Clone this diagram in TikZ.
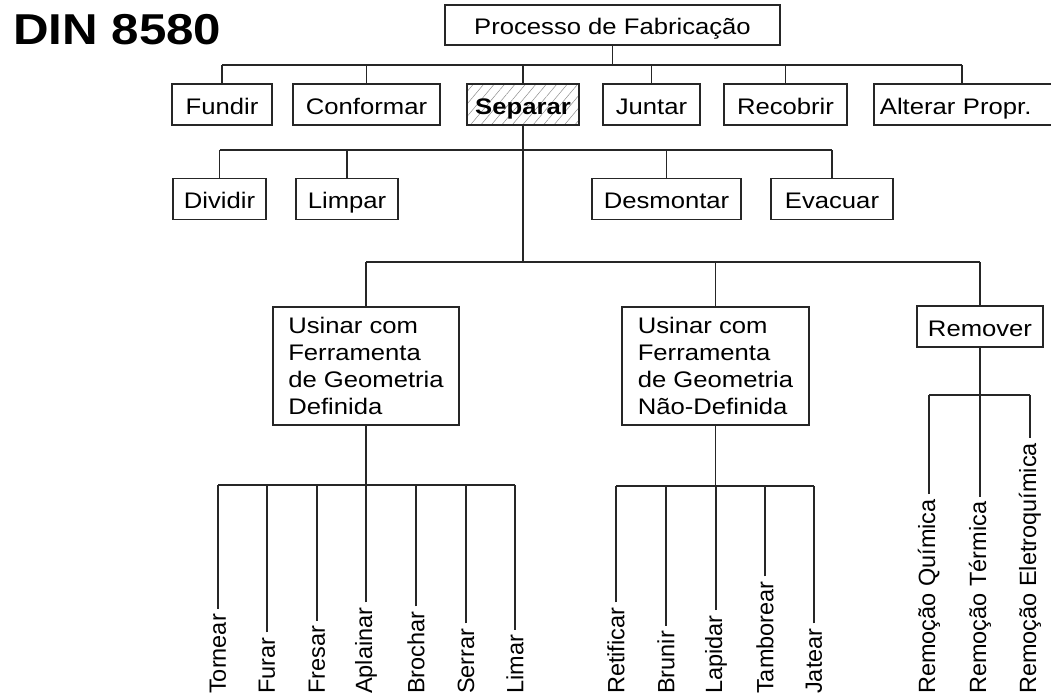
\documentclass[tikz,border=0pt]{standalone}
\usepackage{fontspec}
\setmainfont[FakeStretch=1.14]{Liberation Sans}
\newfontfamily\leaffont{Liberation Sans}
\usetikzlibrary{positioning, calc, patterns.meta}
\tikzstyle{boxbase}=[
  draw=black!85,
  line width=1.8pt,
  minimum height=41pt,
  inner sep=0pt,
  font={\fontsize{22.5}{27}\selectfont}
]
\tikzstyle{procbox}=[boxbase, text height=21pt, text depth=2pt]
\tikzstyle{leaf}=[
  rotate=90,
  anchor=west,
  inner sep=5pt,
  font={\leaffont\fontsize{23.5}{27}\selectfont}
]
\tikzstyle{conn}=[line width=1.4pt, black!85]

\begin{document}
\begin{tikzpicture}[x=1pt, y=-1pt]

\newcommand\ROWA{104.5}
\newcommand\ROWB{199}
\newcommand\BOTTOM{699}

\useasboundingbox (0,0) rectangle (1051,698);
\clip (0,0) rectangle (1051,698);

%% title
\node[anchor=base west, inner sep=0pt, font={\bfseries\fontsize{43.2}{50}\selectfont}] (din) at (13,45) {DIN 8580};

%% bus lines
\coordinate (busa) at (0,65);
\coordinate (busb) at (0,150);
\coordinate (busc) at (0,262);
\coordinate (busd) at (0,485);
\coordinate (buse) at (0,486);
\coordinate (busf) at (0,395);

%% top
\node[procbox, minimum width=335pt, minimum height=40pt] (fabric) at (612.5,25) {Processo de Fabricação};

%% first level
\node[procbox, minimum width=100pt] (fundir) at (222,\ROWA) {Fundir};
\node[procbox, minimum width=147pt] (conformar) at (366.5,\ROWA) {Conformar};
\node[procbox, minimum width=112pt, pattern={Lines[angle=50, distance=8pt, line width=0.5pt]}, pattern color=black!45] (separar) at (523,\ROWA) {\textbf{Separar}};
\node[procbox, minimum width=97pt] (juntar) at (651.5,\ROWA) {Juntar};
\node[procbox, minimum width=123pt] (recobrir) at (785.5,\ROWA) {Recobrir};
\node[procbox, anchor=west, inner xsep=6pt, text width=180pt, align=left] (alterar) at (873,\ROWA) {Alterar Propr.};
\coordinate (altin) at (962,84);

\draw[conn] (fabric.south) -- (fabric.south |- busa);
\draw[conn] (fundir.north |- busa) -- (altin |- busa);
\foreach \n in {fundir, conformar, separar, juntar, recobrir}
  \draw[conn] (\n.north) -- (\n.north |- busa);
\draw[conn] (altin) -- (altin |- busa);

%% second level
\node[procbox, minimum width=93pt] (dividir) at (219.5,\ROWB) {Dividir};
\node[procbox, minimum width=102pt] (limpar) at (347,\ROWB) {Limpar};
\node[procbox, minimum width=149pt] (desmontar) at (666.5,\ROWB) {Desmontar};
\node[procbox, minimum width=122pt] (evacuar) at (832,\ROWB) {Evacuar};

\draw[conn] (separar.south) -- (separar.south |- busc);
\draw[conn] (dividir.north |- busb) -- (evacuar.north |- busb);
\foreach \n in {dividir, limpar, desmontar, evacuar}
  \draw[conn] (\n.north) -- (\n.north |- busb);

%% machining groups
\node[boxbase, minimum width=186pt, minimum height=118pt, align=left] (usinara) at (366,366) {Usinar com\\Ferramenta\\de Geometria\\Definida};
\node[boxbase, minimum width=187pt, minimum height=118pt, align=left] (usinarb) at (715.5,366) {Usinar com\\Ferramenta\\de Geometria\\Não-Definida};
\node[procbox, minimum width=126pt] (remover) at (980,326.5) {Remover};

\draw[conn] (usinara.north |- busc) -- (remover.north |- busc);
\foreach \n in {usinara, usinarb, remover}
  \draw[conn] (\n.north) -- (\n.north |- busc);

%% leaves
\foreach \x/\n/\lbl in {218/tornear/Tornear, 267/furar/Furar, 317/fresar/Fresar, 366/aplainar/Aplainar, 416/brochar/Brochar, 466/serrar/Serrar, 515/limar/Limar} {
  \node[leaf] (\n) at (\x,\BOTTOM) {\lbl};
  \draw[conn] (\n.east) -- (\n.east |- busd);
}
\draw[conn] (usinara.south) -- (usinara.south |- busd);
\draw[conn] (tornear.east |- busd) -- (limar.east |- busd);

\foreach \x/\n/\lbl in {616/retificar/Retificar, 666/brunir/Brunir, 716/lapidar/Lapidar, 765/tamborear/Tamborear, 814/jatear/Jatear} {
  \node[leaf] (\n) at (\x,\BOTTOM) {\lbl};
  \draw[conn] (\n.east) -- (\n.east |- buse);
}
\draw[conn] (usinarb.south) -- (usinarb.south |- buse);
\draw[conn] (retificar.east |- buse) -- (jatear.east |- buse);

\foreach \x/\n/\lbl in {929/quimica/Remoção Química, 980/termica/Remoção Térmica, 1030/eletro/Remoção Eletroquímica} {
  \node[leaf] (\n) at (\x,\BOTTOM) {\lbl};
  \draw[conn] (\n.east) -- (\n.east |- busf);
}
\draw[conn] (remover.south) -- (remover.south |- busf);
\draw[conn] (quimica.east |- busf) -- (eletro.east |- busf);

\end{tikzpicture}
\end{document}
